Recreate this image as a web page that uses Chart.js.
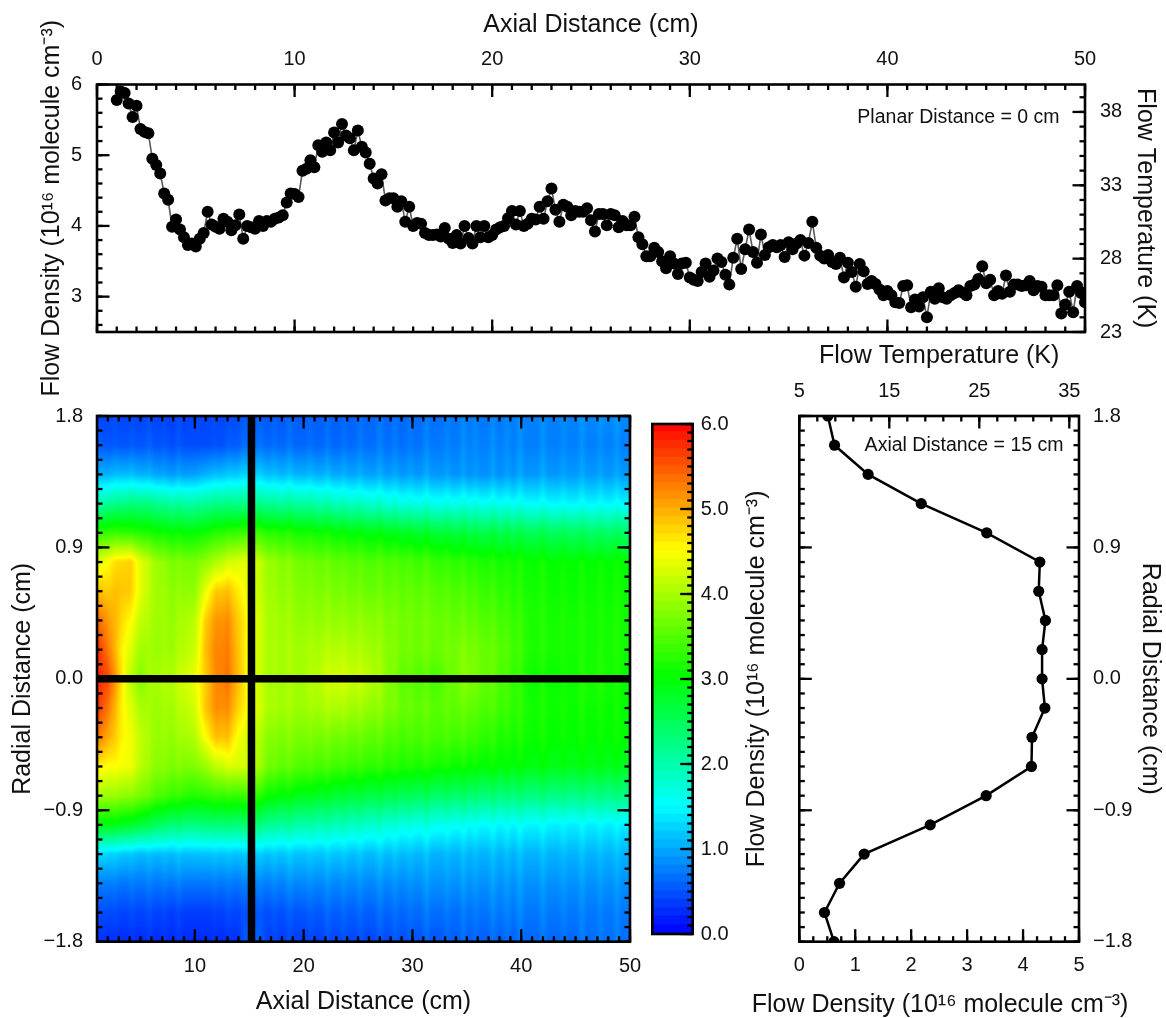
<!DOCTYPE html>
<html>
<head>
<meta charset="utf-8">
<title>Flow density maps</title>
<script src="https://cdn.jsdelivr.net/npm/chart.js@4"></script>
<style>
  html, body { margin: 0; background: #fff; }
  #page { position: relative; width: 1166px; height: 1018px; overflow: hidden; }
  canvas { position: absolute; left: 0; top: 0; }
</style>
</head>
<body>
<div id="page">
  <canvas id="axialChart" width="1166" height="1018"></canvas>
  <canvas id="mapChart" width="1166" height="1018"></canvas>
  <canvas id="barChart" width="1166" height="1018"></canvas>
  <canvas id="profileChart" width="1166" height="1018"></canvas>
</div>
<script>
// Top panel: density along the axis at planar distance 0
const axialPositions = [
  1, 1.2, 1.4, 1.6, 1.8, 2, 2.2, 2.4, 2.6, 2.8, 3, 3.2, 3.4, 3.6, 3.8, 4, 4.2, 4.4, 4.6, 4.8,
  5, 5.2, 5.4, 5.6, 5.8, 6, 6.2, 6.4, 6.6, 6.8, 7, 7.2, 7.4, 7.6, 7.8, 8, 8.2, 8.4, 8.6, 8.8,
  9, 9.2, 9.4, 9.6, 9.8, 10, 10.2, 10.4, 10.6, 10.8, 11, 11.2, 11.4, 11.6, 11.8, 12, 12.2, 12.4, 12.6, 12.8,
  13, 13.2, 13.4, 13.6, 13.8, 14, 14.2, 14.4, 14.6, 14.8, 15, 15.2, 15.4, 15.6, 15.8, 16, 16.2, 16.4, 16.6, 16.8,
  17, 17.2, 17.4, 17.6, 17.8, 18, 18.2, 18.4, 18.6, 18.8, 19, 19.2, 19.4, 19.6, 19.8, 20, 20.2, 20.4, 20.6, 20.8,
  21, 21.2, 21.4, 21.6, 21.8, 22, 22.2, 22.4, 22.6, 22.8, 23, 23.2, 23.4, 23.6, 23.8, 24, 24.2, 24.4, 24.6, 24.8,
  25, 25.2, 25.4, 25.6, 25.8, 26, 26.2, 26.4, 26.6, 26.8, 27, 27.2, 27.4, 27.6, 27.8, 28, 28.2, 28.4, 28.6, 28.8,
  29, 29.2, 29.4, 29.6, 29.8, 30, 30.2, 30.4, 30.6, 30.8, 31, 31.2, 31.4, 31.6, 31.8, 32, 32.2, 32.4, 32.6, 32.8,
  33, 33.2, 33.4, 33.6, 33.8, 34, 34.2, 34.4, 34.6, 34.8, 35, 35.2, 35.4, 35.6, 35.8, 36, 36.2, 36.4, 36.6, 36.8,
  37, 37.2, 37.4, 37.6, 37.8, 38, 38.2, 38.4, 38.6, 38.8, 39, 39.2, 39.4, 39.6, 39.8, 40, 40.2, 40.4, 40.6, 40.8,
  41, 41.2, 41.4, 41.6, 41.8, 42, 42.2, 42.4, 42.6, 42.8, 43, 43.2, 43.4, 43.6, 43.8, 44, 44.2, 44.4, 44.6, 44.8,
  45, 45.2, 45.4, 45.6, 45.8, 46, 46.2, 46.4, 46.6, 46.8, 47, 47.2, 47.4, 47.6, 47.8, 48, 48.2, 48.4, 48.6, 48.8,
  49, 49.2, 49.4, 49.6, 49.8, 50
];
const axialDensity = [
  5.78, 5.90, 5.88, 5.73, 5.54, 5.70, 5.37, 5.33, 5.31, 4.95, 4.86, 4.74, 4.46, 4.37, 3.99, 4.09, 3.95, 3.84, 3.73, 3.75,
  3.71, 3.82, 3.90, 4.20, 4.02, 3.99, 3.96, 4.10, 4.06, 3.94, 4.01, 4.16, 3.82, 4.00, 3.98, 3.96, 4.07, 4.00, 4.07, 4.06,
  4.10, 4.12, 4.15, 4.33, 4.46, 4.45, 4.41, 4.78, 4.81, 4.93, 4.83, 5.14, 5.05, 5.18, 5.07, 5.32, 5.18, 5.44, 5.28, 5.24,
  5.07, 5.35, 5.12, 5.04, 4.88, 4.67, 4.60, 4.73, 4.36, 4.39,
  4.39, 4.27, 4.35, 4.06, 4.27, 4.00, 4.04, 4.03, 3.90, 3.87, 3.87, 3.88, 3.85, 3.97, 3.82, 3.76, 3.87, 3.75, 4.00, 3.83,
  3.75, 4.00, 3.84, 4.00, 3.84, 3.87, 3.95, 3.98, 4.00, 4.11, 4.21, 4.02, 4.21, 4.00, 4.03, 4.10, 4.09, 4.27, 4.10, 4.35,
  4.53, 4.23, 4.06, 4.30, 4.27, 4.15, 4.21, 4.20, 4.20, 4.25, 4.08, 3.92, 4.17, 4.17, 4.01, 4.17, 4.15, 3.98, 4.07, 4.01,
  4.01, 4.13, 3.84, 3.74, 3.57, 3.57, 3.69, 3.63, 3.50, 3.40, 3.57, 3.47, 3.32, 3.47, 3.48, 3.27, 3.24, 3.22, 3.35, 3.47,
  3.28, 3.37, 3.54, 3.49, 3.31, 3.17, 3.55, 3.82,
  3.39, 3.67, 3.95, 3.63, 3.48, 3.88, 3.59, 3.70, 3.73, 3.70, 3.73, 3.56, 3.77, 3.67, 3.75, 3.80, 3.58, 3.76, 4.06, 3.69,
  3.58, 3.54, 3.59, 3.49, 3.46, 3.55, 3.27, 3.48, 3.35, 3.14, 3.46, 3.36, 3.18, 3.22, 3.18, 3.10, 3.02, 3.08, 3.02, 2.92,
  2.91, 3.15, 3.16, 2.85, 2.96, 2.86, 2.99, 2.71, 3.07, 2.97, 3.12, 2.99, 2.97, 3.02, 3.05, 3.09, 3.06, 3.02, 3.15, 3.17,
  3.25, 3.43, 3.19, 3.24, 3.02, 3.08, 3.04, 3.30, 3.07, 3.17, 3.17, 3.15, 3.16, 3.22, 3.09, 3.15, 3.14, 3.02, 3.02, 3.02,
  3.16, 2.76, 2.89, 3.07, 2.78, 3.15, 3.05, 2.92
];

// Right panel: radial profile at 15 cm
const radialPositions = [1.8, 1.6, 1.4, 1.2, 1.0, 0.8, 0.6, 0.4, 0.2, 0, -0.2, -0.4, -0.6, -0.8, -1.0, -1.2, -1.4, -1.6, -1.8];
const profileDensity = [0.51, 0.63, 1.23, 2.18, 3.35, 4.30, 4.28, 4.40, 4.34, 4.34, 4.39, 4.16, 4.15, 3.34, 2.34, 1.16, 0.72, 0.45, 0.62];

// Map: one row per radial position, one value per entry of mapColumns
const mapColumns = [1, 2, 3, 4, 5, 6, 8, 10, 11, 12, 13, 14, 15, 17, 20, 23, 26, 29, 32, 35, 38, 41, 44, 47, 50];
const mapDensity = [
  [0.40, 0.40, 0.40, 0.40, 0.40, 0.40, 0.35, 0.40, 0.40, 0.40, 0.40, 0.45, 0.51, 0.50, 0.55, 0.55, 0.60, 0.60, 0.65, 0.70, 0.70, 0.75, 0.75, 0.80, 0.80],
  [0.55, 0.50, 0.50, 0.50, 0.50, 0.50, 0.45, 0.45, 0.45, 0.45, 0.50, 0.55, 0.63, 0.60, 0.60, 0.60, 0.65, 0.65, 0.70, 0.75, 0.75, 0.75, 0.75, 0.75, 0.75],
  [1.05, 1.05, 1.10, 1.10, 1.05, 1.00, 0.90, 0.95, 1.05, 1.10, 1.15, 1.20, 1.23, 1.10, 1.05, 1.00, 0.95, 0.90, 0.90, 0.85, 0.85, 0.90, 0.90, 0.90, 0.90],
  [2.00, 2.10, 2.20, 2.25, 2.25, 2.20, 2.05, 2.05, 2.15, 2.20, 2.20, 2.20, 2.18, 2.10, 2.05, 1.90, 1.80, 1.65, 1.60, 1.60, 1.55, 1.50, 1.45, 1.45, 1.45],
  [3.30, 3.30, 3.30, 3.25, 3.20, 3.10, 3.00, 3.00, 3.10, 3.20, 3.25, 3.30, 3.35, 3.20, 3.10, 3.00, 2.90, 2.80, 2.70, 2.60, 2.55, 2.50, 2.45, 2.40, 2.40],
  [4.30, 4.50, 4.70, 4.75, 4.35, 4.00, 3.70, 3.70, 3.85, 4.00, 4.20, 4.30, 4.30, 3.85, 3.65, 3.55, 3.45, 3.40, 3.30, 3.20, 3.10, 3.05, 3.00, 3.00, 3.00],
  [4.90, 4.80, 4.85, 4.80, 4.35, 4.00, 3.80, 3.85, 4.40, 4.80, 4.85, 4.60, 4.28, 3.90, 3.75, 3.70, 3.60, 3.55, 3.50, 3.40, 3.25, 3.10, 3.05, 3.05, 3.05],
  [5.40, 5.10, 4.80, 4.50, 4.15, 3.95, 3.85, 4.10, 4.80, 5.10, 5.15, 4.80, 4.40, 3.95, 3.85, 3.85, 3.80, 3.65, 3.60, 3.55, 3.40, 3.15, 3.10, 3.10, 3.10],
  [5.75, 5.30, 4.70, 4.30, 3.95, 3.90, 3.90, 4.20, 4.90, 5.20, 5.25, 4.85, 4.34, 3.95, 3.95, 4.05, 3.95, 3.65, 3.60, 3.70, 3.50, 3.15, 3.10, 3.10, 3.10],
  [5.78, 5.60, 4.85, 4.10, 3.75, 3.95, 4.05, 4.40, 4.80, 5.20, 5.30, 4.90, 4.34, 3.95, 3.95, 4.25, 4.10, 3.55, 3.40, 3.75, 3.45, 3.05, 3.05, 3.15, 3.00],
  [5.70, 5.30, 4.70, 4.30, 4.00, 3.90, 3.95, 4.25, 4.85, 5.15, 5.15, 4.75, 4.39, 3.95, 3.90, 4.00, 3.85, 3.60, 3.50, 3.55, 3.35, 3.10, 3.05, 3.05, 3.00],
  [5.30, 5.00, 4.65, 4.40, 4.15, 3.90, 3.85, 4.05, 4.50, 4.85, 4.85, 4.45, 4.16, 3.75, 3.70, 3.65, 3.55, 3.40, 3.40, 3.35, 3.15, 3.05, 3.00, 3.00, 3.00],
  [4.60, 4.50, 4.45, 4.40, 4.10, 3.85, 3.70, 3.75, 3.90, 4.10, 4.25, 4.25, 4.15, 3.60, 3.45, 3.35, 3.25, 3.15, 3.10, 3.00, 2.95, 2.90, 2.85, 2.85, 2.80],
  [4.00, 3.90, 3.85, 3.80, 3.70, 3.50, 3.30, 3.20, 3.25, 3.30, 3.30, 3.30, 3.34, 3.00, 2.85, 2.70, 2.60, 2.50, 2.40, 2.35, 2.25, 2.25, 2.20, 2.20, 2.20],
  [2.90, 2.90, 2.85, 2.75, 2.65, 2.50, 2.30, 2.25, 2.30, 2.30, 2.30, 2.30, 2.34, 2.10, 2.00, 1.90, 1.80, 1.65, 1.60, 1.50, 1.45, 1.45, 1.40, 1.40, 1.40],
  [1.30, 1.25, 1.20, 1.15, 1.10, 1.10, 1.10, 1.15, 1.15, 1.15, 1.15, 1.15, 1.16, 1.15, 1.15, 1.15, 1.10, 1.10, 1.05, 1.05, 1.05, 1.05, 1.05, 1.05, 1.05],
  [0.75, 0.75, 0.70, 0.70, 0.70, 0.70, 0.70, 0.70, 0.70, 0.70, 0.70, 0.70, 0.72, 0.75, 0.80, 0.80, 0.80, 0.80, 0.85, 0.85, 0.85, 0.85, 0.85, 0.85, 0.85],
  [0.45, 0.45, 0.40, 0.40, 0.40, 0.40, 0.35, 0.35, 0.35, 0.35, 0.40, 0.40, 0.45, 0.45, 0.50, 0.55, 0.55, 0.60, 0.65, 0.65, 0.70, 0.70, 0.70, 0.70, 0.70],
  [0.30, 0.25, 0.25, 0.25, 0.25, 0.25, 0.25, 0.25, 0.25, 0.25, 0.25, 0.30, 0.62, 0.35, 0.35, 0.40, 0.40, 0.45, 0.50, 0.55, 0.55, 0.60, 0.60, 0.65, 0.65]
];

// Lighter vertical streaks seen in the map: axial position and added density
const streakAxial = [2.7, 4.2, 5.8, 7.2, 8.5, 11.8, 13.1, 14.5, 16, 17.3, 18.7, 20.6, 22.2, 23.7, 25.2, 27, 28.4, 29.8, 31.3, 33.2, 34.7, 35.8, 37.4, 38.7, 39.9, 42, 43.9, 45.6, 47.3, 48.8];
const streakDensity = [0.04, 0.05, 0.07, 0.05, 0.08, 0.04, 0.05, 0.05, 0.08, 0.06, 0.1, 0.06, 0.1, 0.07, 0.09, 0.12, 0.09, 0.07, 0.12, 0.08, 0.11, 0.07, 0.12, 0.09, 0.13, 0.12, 0.08, 0.12, 0.09, 0.11];

// Tick labels
const axialTicks = [0, 10, 20, 30, 40, 50];
const mapAxialTicks = [10, 20, 30, 40, 50];
const densityTicks = [3, 4, 5, 6];
const temperatureTicks = [23, 28, 33, 38];
const radialTicks = [1.8, 0.9, 0, -0.9, -1.8];
const colorbarTicks = [0, 1, 2, 3, 4, 5, 6];
const profileDensityTicks = [0, 1, 2, 3, 4, 5];
const profileTempTicks = [5, 15, 25, 35];

// Colour scale of the map and the bar
const colorStops = [0, 1.5, 3, 4.5, 6];
const colorValues = [[0, 0, 255], [0, 255, 255], [0, 255, 0], [255, 255, 0], [255, 0, 0]];

Chart.defaults.font.family = '"Liberation Sans", Arial, sans-serif';
Chart.defaults.color = "#111";
Chart.defaults.animation = false;
Chart.defaults.responsive = false;
Chart.defaults.plugins.legend.display = false;
Chart.defaults.plugins.tooltip.enabled = false;

const TICK_FONT = { size: 20 };
const TITLE_FONT = { size: 25 };
const DENSITY_TITLE = "Flow Density (10¹⁶ molecule cm⁻³)";

function range(start, stop, step) {
  const out = [];
  const n = Math.round((stop - start) / step);
  for (let i = 0; i <= n; i++) out.push(Math.round((start + i * step) * 1000) / 1000);
  return out;
}

function rgb(v) {
  const c = densityRgb(v);
  return `rgb(${c[0]},${c[1]},${c[2]})`;
}

function densityRgb(v) {
  const val = Math.max(0, Math.min(6, v));
  let i = 0;
  while (i < colorStops.length - 2 && val > colorStops[i + 1]) i++;
  const t = (val - colorStops[i]) / (colorStops[i + 1] - colorStops[i]);
  return colorValues[i].map((c, k) => Math.round(c + (colorValues[i + 1][k] - c) * t));
}

// Fixed-size axis box with only the given tick values
function axis(size, ticks, extra) {
  const horizontal = extra.position === "top" || extra.position === "bottom";
  return Object.assign({
    grid: { display: false },
    border: { display: false },
    afterFit: (s) => {
      if (horizontal) s.height = size;
      else s.width = size;
    },
    afterBuildTicks: (s) => {
      s.ticks = ticks.map((value) => ({ value }));
    },
  }, extra);
}

function tickOpts(padding, callback) {
  const t = { font: TICK_FONT, padding, autoSkip: false, maxRotation: 0, minRotation: 0, color: "#111" };
  if (callback) t.callback = callback;
  return t;
}

function radialLabel(v) {
  return v < 0 ? "\u2212" + Math.abs(v).toFixed(1) : v.toFixed(1);
}

// Ticks pointing into the plot, the frame, and any free text for this panel
function frameTicks(marks, notes) {
  return {
    id: "frameTicks",
    afterDraw(chart) {
      const { ctx, chartArea: a } = chart;
      ctx.save();
      ctx.strokeStyle = "#000";
      ctx.lineWidth = 2.3;
      marks.forEach((m) => {
        const s = chart.scales[m.scale];
        const put = (v, len) => {
          const p = s.getPixelForValue(v);
          m.sides.forEach((side) => {
            ctx.beginPath();
            if (side === "top") { ctx.moveTo(p, a.top); ctx.lineTo(p, a.top + len); }
            if (side === "bottom") { ctx.moveTo(p, a.bottom); ctx.lineTo(p, a.bottom - len); }
            if (side === "left") { ctx.moveTo(a.left, p); ctx.lineTo(a.left + len, p); }
            if (side === "right") { ctx.moveTo(a.right, p); ctx.lineTo(a.right - len, p); }
            ctx.stroke();
          });
        };
        m.minor.forEach((v) => put(v, 5.5));
        m.major.forEach((v) => put(v, 12.5));
      });
      ctx.lineWidth = 2.6;
      ctx.strokeRect(a.left, a.top, a.right - a.left, a.bottom - a.top);
      (notes || []).forEach((note) => {
        ctx.fillStyle = "#111";
        ctx.font = `${note.size}px "Liberation Sans", Arial, sans-serif`;
        ctx.textAlign = note.align;
        ctx.textBaseline = "middle";
        ctx.fillText(note.text, note.px, note.py);
      });
      ctx.restore();
    },
  };
}

// Paints the grid behind the datasets, sampling between grid nodes with the chart's scales
const mapImage = {
  id: "mapImage",
  beforeDatasetsDraw(chart) {
    const { ctx, chartArea: a, scales: { x, y } } = chart;
    const left = Math.floor(a.left), top = Math.floor(a.top);
    const w = Math.ceil(a.right) - left, h = Math.ceil(a.bottom) - top;
    const img = ctx.createImageData(w, h);
    const bracket = (list, v) => {
      let i = 0;
      while (i < list.length - 2 && v > list[i + 1]) i++;
      return i;
    };
    const radialUp = radialPositions.slice().reverse();
    for (let py = 0; py < h; py++) {
      const r = Math.max(-1.8, Math.min(1.8, y.getValueForPixel(top + py + 0.5)));
      const rUp = bracket(radialUp, r);
      const tr = (r - radialUp[rUp]) / (radialUp[rUp + 1] - radialUp[rUp]);
      const lo = mapDensity[radialPositions.length - 1 - rUp];
      const hi = mapDensity[radialPositions.length - 2 - rUp];
      for (let px = 0; px < w; px++) {
        const d = Math.max(1, Math.min(50, x.getValueForPixel(left + px + 0.5)));
        const c = bracket(mapColumns, d);
        const tc = (d - mapColumns[c]) / (mapColumns[c + 1] - mapColumns[c]);
        const a0 = lo[c] + (lo[c + 1] - lo[c]) * tc;
        const a1 = hi[c] + (hi[c + 1] - hi[c]) * tc;
        let extra = 0;
        streakAxial.forEach((s, i) => {
          extra += streakDensity[i] * Math.max(0, 1 - Math.abs(d - s) / 0.5);
        });
        const col = densityRgb(a0 + (a1 - a0) * tr + extra);
        const k = (py * w + px) * 4;
        img.data[k] = col[0];
        img.data[k + 1] = col[1];
        img.data[k + 2] = col[2];
        img.data[k + 3] = 255;
      }
    }
    ctx.putImageData(img, left, top);
  },
};

// Top panel
new Chart(document.getElementById("axialChart"), {
  type: "scatter",
  data: {
    datasets: [{
      data: axialPositions.map((x, i) => ({ x, y: axialDensity[i] })),
      showLine: true,
      borderColor: "#5a5a5a",
      borderWidth: 1.6,
      pointRadius: 6,
      pointBackgroundColor: "#000",
      pointBorderWidth: 0,
      clip: 0,
    }],
  },
  options: {
    layout: { padding: { bottom: 1018 - 332 } },
    scales: {
      x: axis(84.5, axialTicks, {
        type: "linear", position: "top", min: 0, max: 50,
        ticks: tickOpts(5),
        title: { display: true, text: "Axial Distance (cm)", font: TITLE_FONT, padding: { top: 10 } },
      }),
      y: axis(97, densityTicks, {
        type: "linear", position: "left", min: 2.5, max: 6,
        ticks: tickOpts(7),
        title: { display: true, text: DENSITY_TITLE, font: TITLE_FONT, padding: { top: 37 } },
      }),
      y2: axis(81, temperatureTicks, {
        type: "linear", position: "right", min: 23, max: 39.87,
        ticks: tickOpts(7),
        title: { display: true, text: "Flow Temperature (K)", font: TITLE_FONT, padding: { top: 6 } },
      }),
    },
  },
  plugins: [frameTicks([
    { scale: "x", sides: ["top", "bottom"], major: axialTicks, minor: range(0, 50, 1) },
    { scale: "y", sides: ["left"], major: densityTicks, minor: range(2.6, 6, 0.2) },
    { scale: "y2", sides: ["right"], major: temperatureTicks, minor: range(23, 39, 1) },
  ], [{ text: "Planar Distance = 0 cm", px: 1059.5, py: 118, size: 19.5, align: "right" }])],
});

// Map panel
new Chart(document.getElementById("mapChart"), {
  type: "scatter",
  data: {
    datasets: [
      {
        data: [{ x: 1, y: 0 }, { x: 50, y: 0 }],
        showLine: true, borderColor: "#000", borderWidth: 7.5, pointRadius: 0, borderCapStyle: "butt", clip: 0,
      },
      {
        data: [{ x: 15.2, y: -1.8 }, { x: 15.2, y: 1.8 }],
        showLine: true, borderColor: "#000", borderWidth: 7.5, pointRadius: 0, borderCapStyle: "butt", clip: 0,
      },
    ],
  },
  options: {
    layout: { padding: { top: 416, right: 1166 - 630 } },
    scales: {
      x: axis(1018 - 941.7, mapAxialTicks, {
        type: "linear", position: "bottom", min: 1, max: 50,
        ticks: tickOpts(5),
        title: { display: true, text: "Axial Distance (cm)", font: TITLE_FONT, padding: { bottom: 1 } },
      }),
      y: axis(97, radialTicks, {
        type: "linear", position: "left", min: -1.8, max: 1.8,
        afterTickToLabelConversion: (s) => { s.ticks.forEach((t) => { t.label = radialLabel(t.value); }); },
        ticks: tickOpts(6),
        title: { display: true, text: "Radial Distance (cm)", font: TITLE_FONT, padding: { top: 8 } },
      }),
    },
  },
  plugins: [mapImage, frameTicks([
    { scale: "x", sides: ["top", "bottom"], major: mapAxialTicks, minor: range(2, 50, 1) },
    { scale: "y", sides: ["left", "right"], major: radialTicks, minor: range(-1.8, 1.8, 0.1) },
  ])],
});

// Colour bar, one floating bar per colour band
const colorbarBands = range(0, 5.9, 0.1);
new Chart(document.getElementById("barChart"), {
  type: "bar",
  data: {
    labels: ["density"],
    datasets: colorbarBands.map((low) => ({
      data: [[low, Math.min(6, low + 0.11)]],
      backgroundColor: rgb(low + 0.05),
      grouped: false,
      barPercentage: 1,
      categoryPercentage: 1,
    })),
  },
  options: {
    layout: { padding: { left: 652.3, top: 424, bottom: 1018 - 934, right: 1166 - 692.7 - 60 } },
    scales: {
      x: { display: false, grid: { display: false } },
      y: axis(60, colorbarTicks, {
        type: "linear", position: "right", min: 0, max: 6,
        ticks: tickOpts(0, (v) => v.toFixed(1)),
      }),
    },
  },
  plugins: [frameTicks([
    { scale: "y", sides: ["right"], major: colorbarTicks, minor: range(0, 6, 0.1) },
  ])],
});

// Right panel
new Chart(document.getElementById("profileChart"), {
  type: "scatter",
  data: {
    datasets: [{
      data: radialPositions.map((y, i) => ({ x: profileDensity[i], y })),
      showLine: true,
      borderColor: "#000",
      borderWidth: 2.5,
      pointRadius: 5.6,
      pointBackgroundColor: "#000",
      pointBorderWidth: 0,
      clip: 0,
    }],
  },
  options: {
    scales: {
      x: axis(1018 - 941.7, profileDensityTicks, {
        type: "linear", position: "bottom", min: 0, max: 5,
        ticks: tickOpts(4),
      }),
      x2: axis(416, profileTempTicks, {
        type: "linear", position: "top", min: 5, max: 36.08,
        ticks: tickOpts(5),
        title: { display: true, text: "Flow Temperature (K)", font: TITLE_FONT, padding: { top: 341 } },
      }),
      y: axis(799.3, [], {
        type: "linear", position: "left", min: -1.8, max: 1.8,
        ticks: { display: false },
        title: { display: true, text: DENSITY_TITLE, font: TITLE_FONT, padding: { top: 742 } },
      }),
      y2: axis(1166 - 1079, radialTicks, {
        type: "linear", position: "right", min: -1.8, max: 1.8,
        afterTickToLabelConversion: (s) => { s.ticks.forEach((t) => { t.label = radialLabel(t.value); }); },
        ticks: tickOpts(6),
        title: { display: true, text: "Radial Distance (cm)", font: TITLE_FONT, padding: { top: 1 } },
      }),
    },
  },
  plugins: [frameTicks([
    { scale: "x", sides: ["bottom"], major: profileDensityTicks, minor: range(0, 5, 0.25) },
    { scale: "x2", sides: ["top"], major: profileTempTicks, minor: range(5, 35, 2) },
    { scale: "y", sides: ["left", "right"], major: radialTicks, minor: range(-1.8, 1.8, 0.1) },
  ], [
    { text: "Axial Distance = 15 cm", px: 1063.5, py: 446, size: 19.5, align: "right" },
    { text: DENSITY_TITLE, px: 940, py: 1005, size: 25, align: "center" },
  ])],
});
</script>
</body>
</html>
